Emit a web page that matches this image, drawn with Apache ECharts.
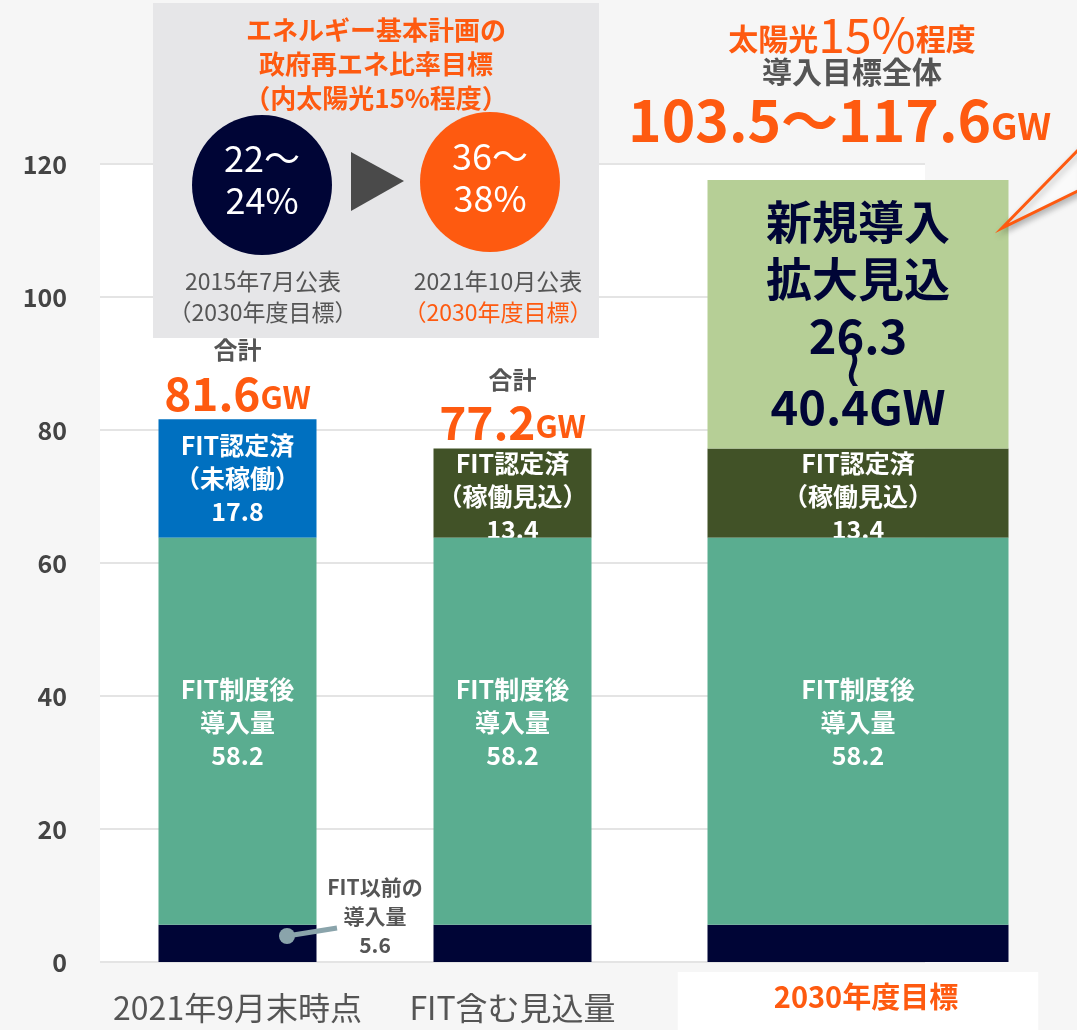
<!DOCTYPE html>
<html>
<head>
<meta charset="utf-8">
<script src="https://cdn.jsdelivr.net/npm/echarts@6/dist/echarts.min.js"></script>
<style>
  html, body { margin: 0; padding: 0; background: #f6f6f6; }
  #chart { width: 1077px; height: 1030px; }
</style>
</head>
<body>
<div id="chart"></div>
<script>
// カテゴリ
const categories = ["2021年9月末時点", "FIT含む見込量", "2030年度目標"];
// 各積み上げ (GW)
const preFit = [5.6, 5.6, 5.6];          // FIT以前の導入量
const postFit = [58.2, 58.2, 58.2];      // FIT制度後導入量
const certUnbuilt = [17.8, null, null];  // FIT認定済（未稼働）
const certExpected = [null, 13.4, 13.4]; // FIT認定済（稼働見込）
const newLow = [null, null, 26.3];       // 新規導入拡大見込（下限）
const newHigh = [null, null, 40.4];      // 新規導入拡大見込（上限）
const yTicks = [0, 20, 40, 60, 80, 100, 120];

const totals = categories.map((c, i) =>
  (preFit[i] + postFit[i] + (certUnbuilt[i] || 0) + (certExpected[i] || 0)).toFixed(1)
);

const FONT = '"Noto Sans CJK JP", "Noto Sans", sans-serif';
const ORANGE = "#fe5a10";
const NAVY = "#000536";
const GRAY = "#555555";

const chart = echarts.init(document.getElementById("chart"));

const labelInside = (txt) => ({
  show: true,
  position: "inside",
  formatter: txt,
  color: "#fff",
  fontFamily: FONT,
  fontWeight: "bold",
  fontSize: 25,
  lineHeight: 33,
});

// grid 1 = 左2本, grid 2 = 2030年度目標
const A = [0, 1];
const B = [2];
const pick = (arr, idx) => idx.map((i) => (arr[i] == null ? "-" : arr[i]));

const series = [
  // ---- 左2本 ----
  {
    name: "FIT以前", type: "bar", xAxisIndex: 1, yAxisIndex: 1, stack: "a",
    barWidth: 158, data: pick(preFit, A), itemStyle: { color: NAVY }, z: 3,
  },
  {
    name: "FIT制度後", type: "bar", xAxisIndex: 1, yAxisIndex: 1, stack: "a",
    data: pick(postFit, A), itemStyle: { color: "#5aad90" }, z: 3,
    label: Object.assign(labelInside((p) => "FIT制度後\n導入量\n" + p.value), { offset: [0, -9] }),
  },
  {
    name: "未稼働", type: "bar", xAxisIndex: 1, yAxisIndex: 1, stack: "a",
    data: pick(certUnbuilt, A), itemStyle: { color: "#0070c0" }, z: 2,
    label: labelInside((p) => "FIT認定済\n（未稼働）\n" + p.value),
  },
  {
    name: "稼働見込", type: "bar", xAxisIndex: 1, yAxisIndex: 1, stack: "a",
    data: pick(certExpected, A), itemStyle: { color: "#415227" }, z: 2,
    label: Object.assign(labelInside((p) => "FIT認定済\n（稼働見込）\n" + p.value), { offset: [0, 3] }),
  },
  {
    name: "合計", type: "bar", xAxisIndex: 1, yAxisIndex: 1, stack: "a",
    data: A.map(() => 0), itemStyle: { color: "transparent" }, z: 4,
    label: {
      show: true,
      position: "top",
      distance: 2,
      formatter: (p) => "{a|合計}\n{b|" + totals[A[p.dataIndex]] + "}{c|GW}",
      rich: {
        a: { fontFamily: FONT, fontWeight: "bold", fontSize: 24, color: GRAY, lineHeight: 38 },
        b: { fontFamily: FONT, fontWeight: "bold", fontSize: 46, color: ORANGE, lineHeight: 48 },
        c: { fontFamily: FONT, fontWeight: "bold", fontSize: 31, color: ORANGE, lineHeight: 48, padding: [8, 0, 0, 0] },
      },
    },
  },
  // ---- 2030年度目標 ----
  {
    name: "FIT以前", type: "bar", xAxisIndex: 2, yAxisIndex: 2, stack: "b",
    barWidth: 301, data: pick(preFit, B), itemStyle: { color: NAVY }, z: 3,
  },
  {
    name: "FIT制度後", type: "bar", xAxisIndex: 2, yAxisIndex: 2, stack: "b",
    data: pick(postFit, B), itemStyle: { color: "#5aad90" }, z: 3,
    label: Object.assign(labelInside((p) => "FIT制度後\n導入量\n" + p.value), { offset: [0, -9] }),
  },
  {
    name: "稼働見込", type: "bar", xAxisIndex: 2, yAxisIndex: 2, stack: "b",
    data: pick(certExpected, B), itemStyle: { color: "#415227" }, z: 2,
    label: Object.assign(labelInside((p) => "FIT認定済\n（稼働見込）\n" + p.value), { offset: [0, 3] }),
  },
  {
    name: "新規導入", type: "bar", xAxisIndex: 2, yAxisIndex: 2, stack: "b",
    data: pick(newHigh, B), itemStyle: { color: "#b6cf96" }, z: 2,
    label: {
      show: true,
      position: "inside",
      color: NAVY,
      fontFamily: FONT,
      formatter: (p) =>
        "{t|新規導入}\n{t|拡大見込}\n{n|" + newLow[B[p.dataIndex]] + "}\n{w|≀}\n{n|" + p.value + "GW}",
      rich: {
        t: { fontFamily: FONT, fontWeight: "bold", fontSize: 46, color: NAVY, lineHeight: 57 },
        n: { fontFamily: FONT, fontWeight: "bold", fontSize: 47, color: NAVY, lineHeight: 57 },
        w: { fontFamily: '"DejaVu Sans", sans-serif', fontSize: 58, color: NAVY, lineHeight: 14, padding: [0, 10, 0, 0] },
      },
    },
  },
];

chart.setOption({
  backgroundColor: "#f6f6f6",
  animation: false,
  grid: [
    { left: 100, top: 164, width: 825, height: 798, show: true, backgroundColor: "#fff", borderWidth: 0, outerBoundsMode: "none" },
    { left: 100, top: 164, width: 550, height: 798, outerBoundsMode: "none" },
    { left: 650, top: 164, width: 416, height: 798, outerBoundsMode: "none" },
  ],
  xAxis: [
    { gridIndex: 0, type: "value", show: false },
    {
      gridIndex: 1, type: "category", data: A.map((i) => categories[i]),
      axisLine: { show: false }, axisTick: { show: false },
      axisLabel: { interval: 0, fontFamily: FONT, fontSize: 32, color: GRAY, margin: 30 },
    },
    {
      gridIndex: 2, type: "category", data: B.map((i) => categories[i]),
      axisLine: { show: false }, axisTick: { show: false },
      axisLabel: {
        interval: 0, fontFamily: FONT, fontSize: 29, fontWeight: "bold", color: ORANGE, margin: 10,
        backgroundColor: "#fff", padding: [10, 80, 30, 96],
      },
    },
  ],
  yAxis: [
    {
      gridIndex: 0, type: "value", min: yTicks[0], max: yTicks[yTicks.length - 1], interval: 20,
      axisLine: { show: false }, axisTick: { show: false },
      axisLabel: { fontFamily: FONT, fontWeight: "bold", fontSize: 25, color: "#444", margin: 33 },
      splitLine: { lineStyle: { color: "#e4e4e4", width: 2 } },
    },
    { gridIndex: 1, type: "value", min: 0, max: 120, show: false },
    { gridIndex: 2, type: "value", min: 0, max: 120, show: false },
  ],
  series: series,
  graphic: [
    // 左上の枠
    { type: "rect", z: 10, shape: { x: 153, y: 3, width: 446, height: 335 }, style: { fill: "#e6e6e8" } },
    {
      type: "text", z: 11, x: 376, y: 13,
      style: {
        text: "エネルギー基本計画の\n政府再エネ比率目標\n（内太陽光15%程度）",
        font: "bold 26px " + FONT, fill: ORANGE, align: "center", lineHeight: 34,
      },
    },
    { type: "circle", z: 11, shape: { cx: 262, cy: 185, r: 70 }, style: { fill: NAVY } },
    { type: "circle", z: 11, shape: { cx: 490, cy: 182, r: 70 }, style: { fill: "#fe5a10" } },
    {
      type: "text", z: 12, x: 262, y: 137,
      style: { text: "22〜\n24%", font: "36px " + FONT, fill: "#fff", align: "center", lineHeight: 42 },
    },
    {
      type: "text", z: 12, x: 490, y: 135,
      style: { text: "36〜\n38%", font: "36px " + FONT, fill: "#fff", align: "center", lineHeight: 42 },
    },
    { type: "polygon", z: 11, shape: { points: [[351, 152], [404, 181], [351, 211]] }, style: { fill: "#4a4a4a" } },
    {
      type: "text", z: 11, x: 263, y: 266,
      style: { text: "2015年7月公表\n（2030年度目標）", font: "23px " + FONT, fill: GRAY, align: "center", lineHeight: 31 },
    },
    {
      type: "text", z: 11, x: 498, y: 266,
      style: { text: "2021年10月公表", font: "23px " + FONT, fill: GRAY, align: "center", lineHeight: 31 },
    },
    {
      type: "text", z: 11, x: 498, y: 297,
      style: { text: "（2030年度目標）", font: "23px " + FONT, fill: ORANGE, align: "center", lineHeight: 31 },
    },
    // 右上
    {
      type: "text", z: 11, x: 852, y: 10,
      style: {
        text: "{s|太陽光}{b|15%}{s|程度}", align: "center",
        rich: {
          s: { font: "bold 30px " + FONT, fill: ORANGE, lineHeight: 50, padding: [8, 0, 0, 0] },
          b: { font: "48px " + FONT, fill: ORANGE, lineHeight: 50 },
        },
      },
    },
    {
      type: "text", z: 11, x: 852, y: 57,
      style: { text: "導入目標全体", font: "bold 30px " + FONT, fill: GRAY, align: "center" },
    },
    {
      type: "text", z: 11, x: 628, y: 88,
      style: {
        text: "{b|103.5〜117.6}{c|GW}",
        rich: {
          b: { font: "bold 57px " + FONT, fill: ORANGE, lineHeight: 64 },
          c: { font: "bold 37px " + FONT, fill: ORANGE, lineHeight: 64, padding: [12, 0, 0, 0] },
        },
      },
    },
    {
      type: "polygon", z: 11,
      shape: { points: [[1002, 228], [1082, 146], [1082, 189]] },
      style: { fill: "#fafafa", stroke: ORANGE, lineWidth: 3, shadowBlur: 6, shadowColor: "rgba(0,0,0,0.25)", shadowOffsetX: 2, shadowOffsetY: 3 },
    },
    // FIT以前の導入量
    { type: "line", z: 11, shape: { x1: 287, y1: 936, x2: 337, y2: 928 }, style: { stroke: "#8aa4ab", lineWidth: 5 } },
    { type: "circle", z: 11, shape: { cx: 287, cy: 936, r: 8 }, style: { fill: "#8aa4ab" } },
    {
      type: "text", z: 11, x: 375, y: 873,
      style: { text: "FIT以前の\n導入量\n5.6", font: "bold 21px " + FONT, fill: GRAY, align: "center", lineHeight: 29 },
    },
  ],
});
</script>
</body>
</html>
